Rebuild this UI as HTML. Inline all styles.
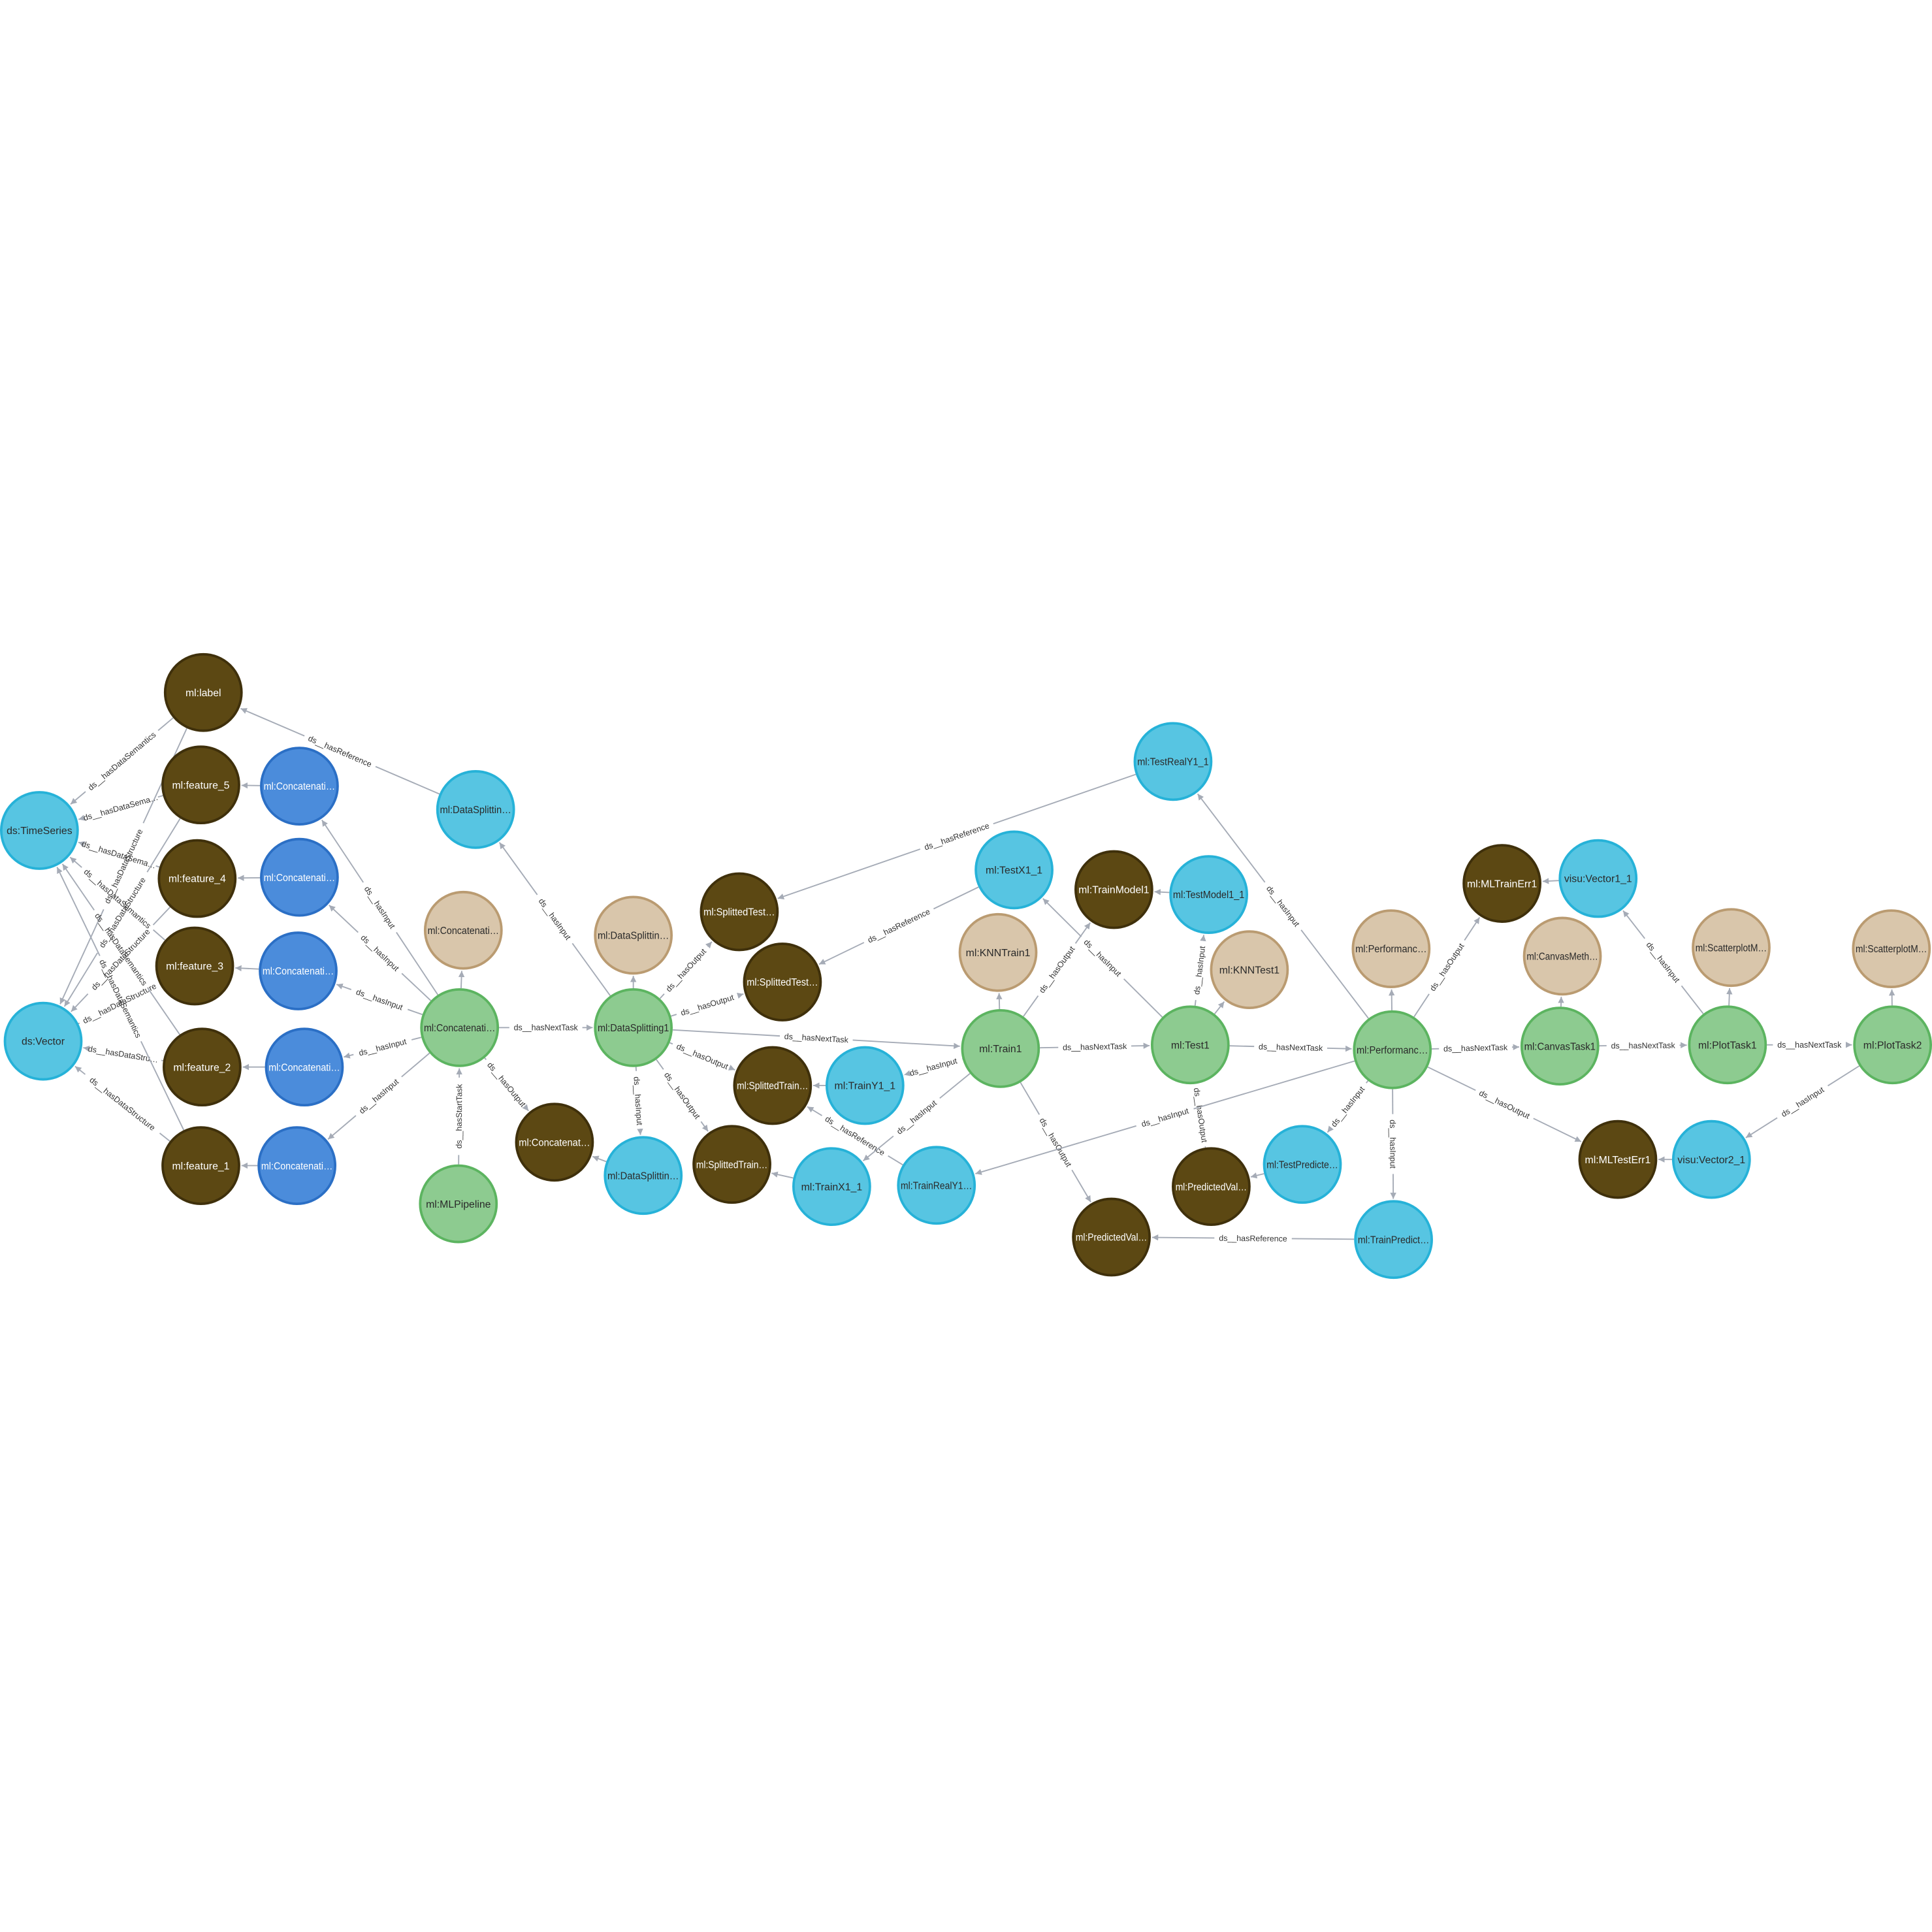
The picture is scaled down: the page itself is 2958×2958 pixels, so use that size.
<!DOCTYPE html>
<html><head><meta charset="utf-8"><style>
html,body{margin:0;padding:0;background:#fff;}
svg{display:block;}
text{font-family:"Liberation Sans",sans-serif;}
</style></head><body>
<svg id="g" width="2958" height="2958" viewBox="0 0 1568 1568" xmlns="http://www.w3.org/2000/svg">
<defs><marker id="ar" viewBox="0 0 10 10" refX="10" refY="5" markerWidth="5" markerHeight="5" orient="auto"><path d="M0,0 L10,5 L0,10 z" fill="#a5abb6"/></marker></defs>
<g id="edges"></g><g id="nodes"></g>
</svg>
<script>
const nodeIds=["label","f5","f4","f3","f2","f1","ts","vec","c5","c4","c3","c2","c1","dsref","concMeth","conc","mlp","concOut","dsMeth","ds1","sTest1","sTest2","sTrain1","sTrain2","dsIn","trainY","trainX","trainReal","testX","knnTrain","train1","trainModel","testModel","knnTest","test1","predVal1","testPred","predVal2","trainPred","testReal","perfMeth","perf","mlTrainErr","visuV1","canvasMeth","canvas","mlTestErr","visuV2","scatM1","plot1","scatM2","plot2"];
const nodeX=[165,163,160,158,164,163,32,35,243,243,242,247,241,386,376,373,372,450,514,514,600,635,627,594,522,702,675,760,823,810,812,904,981,1014,966,983,1057,902,1131,952,1129,1130,1219,1297,1268,1266,1313,1389,1405,1402,1535,1536];
const nodeY=[562,637,713,784,866,946,674,845,638,712,788,866,946,657,755,834,977,927,759,834,740,797,881,945,954,881,963,962,706,773,851,722,726,787,848,963,945,1004,1006,618,770,852,717,713,776,849,941,941,769,848,770,848];
const nodeLabels=["ml:label","ml:feature_5","ml:feature_4","ml:feature_3","ml:feature_2","ml:feature_1","ds:TimeSeries","ds:Vector","ml:Concatenati…","ml:Concatenati…","ml:Concatenati…","ml:Concatenati…","ml:Concatenati…","ml:DataSplittin…","ml:Concatenati…","ml:Concatenati…","ml:MLPipeline","ml:Concatenat…","ml:DataSplittin…","ml:DataSplitting1","ml:SplittedTest…","ml:SplittedTest…","ml:SplittedTrain…","ml:SplittedTrain…","ml:DataSplittin…","ml:TrainY1_1","ml:TrainX1_1","ml:TrainRealY1…","ml:TestX1_1","ml:KNNTrain1","ml:Train1","ml:TrainModel1","ml:TestModel1_1","ml:KNNTest1","ml:Test1","ml:PredictedVal…","ml:TestPredicte…","ml:PredictedVal…","ml:TrainPredict…","ml:TestRealY1_1","ml:Performanc…","ml:Performanc…","ml:MLTrainErr1","visu:Vector1_1","ml:CanvasMeth…","ml:CanvasTask1","ml:MLTestErr1","visu:Vector2_1","ml:ScatterplotM…","ml:PlotTask1","ml:ScatterplotM…","ml:PlotTask2"];
const nodeKinds=["B","B","B","B","B","B","C","C","L","L","L","L","L","C","T","G","G","B","T","G","B","B","B","B","C","C","C","C","C","T","G","B","C","T","G","B","C","B","C","C","T","G","B","C","T","G","B","C","T","G","T","G"];
const edgeFrom=["label","label","f5","f5","f4","f4","f3","f3","f2","f2","f1","f1","c5","c4","c3","c2","c1","dsref","conc","conc","conc","conc","conc","conc","conc","conc","mlp","ds1","ds1","ds1","ds1","ds1","ds1","ds1","dsIn","ds1","trainY","trainX","trainReal","train1","train1","train1","train1","train1","train1","testX","test1","test1","test1","test1","test1","testModel","testReal","testPred","trainPred","perf","perf","perf","perf","perf","perf","perf","perf","canvas","canvas","plot1","plot1","plot1","plot2","plot2","visuV1","visuV2"];
const edgeTo=["ts","vec","ts","vec","ts","vec","ts","vec","ts","vec","ts","vec","f5","f4","f3","f2","f1","label","c5","c4","c3","c2","c1","concMeth","ds1","concOut","conc","dsref","dsMeth","sTest1","sTest2","sTrain1","sTrain2","dsIn","concOut","train1","sTrain1","sTrain2","sTrain1","trainY","trainX","knnTrain","trainModel","predVal2","test1","sTest2","testX","testModel","knnTest","predVal1","perf","trainModel","sTest1","predVal1","predVal2","testReal","perfMeth","mlTrainErr","testPred","trainPred","mlTestErr","trainReal","canvas","canvasMeth","plot1","visuV1","scatM1","plot2","scatM2","visuV2","mlTrainErr","mlTestErr"];
const edgeLabels=["ds__hasDataSemantics","ds__hasDataStructure","ds__hasDataSema…","ds__hasDataStructure","ds__hasDataSema…","ds__hasDataStructure","ds__hasDataSemantics","ds__hasDataStructure","ds__hasDataSemantics","ds__hasDataStru…","ds__hasDataSemantics","ds__hasDataStructure","","","","","","ds__hasReference","ds__hasInput","ds__hasInput","ds__hasInput","ds__hasInput","ds__hasInput","","ds__hasNextTask","ds__hasOutput","ds__hasStartTask","ds__hasInput","","ds__hasOutput","ds__hasOutput","ds__hasOutput","ds__hasOutput","ds__hasInput","","ds__hasNextTask","","","ds__hasReference","ds__hasInput","ds__hasInput","","ds__hasOutput","ds__hasOutput","ds__hasNextTask","ds__hasReference","ds__hasInput","ds__hasInput","","ds__hasOutput","ds__hasNextTask","","ds__hasReference","","ds__hasReference","ds__hasInput","","ds__hasOutput","ds__hasInput","ds__hasInput","ds__hasOutput","ds__hasInput","ds__hasNextTask","","ds__hasNextTask","ds__hasInput","","ds__hasNextTask","","ds__hasInput","",""];

const NS="http://www.w3.org/2000/svg";
const R=32;
const fills={B:["#5c4813","#3f300b","#ffffff"],C:["#57c5e2","#26b2d8","#2a2a2a"],L:["#4b8cdb","#2b6fc5","#ffffff"],G:["#8dcb90","#5cb460","#2a2a2a"],T:["#d9c6ab","#ba9b71","#2a2a2a"]};
const idx={};nodeIds.forEach((n,i)=>idx[n]=i);
const eg=document.getElementById('edges'), ng=document.getElementById('nodes');
for(let i=0;i<edgeFrom.length;i++){
  const a=idx[edgeFrom[i]], b=idx[edgeTo[i]];
  const x1=nodeX[a],y1=nodeY[a],x2=nodeX[b],y2=nodeY[b];
  const dx=x2-x1,dy=y2-y1,L=Math.hypot(dx,dy),ux=dx/L,uy=dy/L;
  const sx=x1+ux*R,sy=y1+uy*R,ex=x2-ux*(R+1),ey=y2-uy*(R+1);
  const g=document.createElementNS(NS,'g');
  
  
  const lab=edgeLabels[i];
  const mx=(sx+ex)/2,my=(sy+ey)/2;
  let ang=Math.atan2(dy,dx)*180/Math.PI; if(ang>90)ang-=180; if(ang<-90)ang+=180;
  const tw=lab?lab.length*3.55+6:0;
  if(lab){
    const l1=document.createElementNS(NS,'line');
    l1.setAttribute('x1',sx);l1.setAttribute('y1',sy);l1.setAttribute('x2',mx-ux*tw/2);l1.setAttribute('y2',my-uy*tw/2);
    l1.setAttribute('stroke','#a5abb6');l1.setAttribute('stroke-width','1');g.appendChild(l1);
    const l2=document.createElementNS(NS,'line');
    l2.setAttribute('x1',mx+ux*tw/2);l2.setAttribute('y1',my+uy*tw/2);l2.setAttribute('x2',ex);l2.setAttribute('y2',ey);
    l2.setAttribute('stroke','#a5abb6');l2.setAttribute('stroke-width','1');l2.setAttribute('marker-end','url(#ar)');g.appendChild(l2);
    const t=document.createElementNS(NS,'text');
    
    
    t.setAttribute('x',mx);t.setAttribute('y',my+2.3);t.setAttribute('text-anchor','middle');
    t.setAttribute('font-size','6.6');t.setAttribute('fill','#333');
    t.setAttribute('transform','rotate('+ang+' '+mx+' '+my+')');
    t.textContent=lab;g.appendChild(t);
  } else {
    const l=document.createElementNS(NS,'line');
    l.setAttribute('x1',sx);l.setAttribute('y1',sy);l.setAttribute('x2',ex);l.setAttribute('y2',ey);
    l.setAttribute('stroke','#a5abb6');l.setAttribute('stroke-width','1');l.setAttribute('marker-end','url(#ar)');g.appendChild(l);
  }
  eg.appendChild(g);
}
for(let i=0;i<nodeIds.length;i++){
  const f=fills[nodeKinds[i]];
  const g=document.createElementNS(NS,'g');
  
  
  const c=document.createElementNS(NS,'circle');
  c.setAttribute('cx',nodeX[i]);c.setAttribute('cy',nodeY[i]);c.setAttribute('r',R-1);
  c.setAttribute('fill',f[0]);c.setAttribute('stroke',f[1]);c.setAttribute('stroke-width','2');
  g.appendChild(c);
  const t=document.createElementNS(NS,'text');
  
  
  t.setAttribute('x',nodeX[i]);t.setAttribute('y',nodeY[i]+3);t.setAttribute('text-anchor','middle');
  t.setAttribute('font-size','8.4');t.setAttribute('fill',f[2]);
  t.textContent=nodeLabels[i];
  g.appendChild(t);
  ng.appendChild(g);
  const w=t.getComputedTextLength();
  if(w>58){t.setAttribute('textLength','58');t.setAttribute('lengthAdjust','spacingAndGlyphs');}
}
</script>
</body></html>
